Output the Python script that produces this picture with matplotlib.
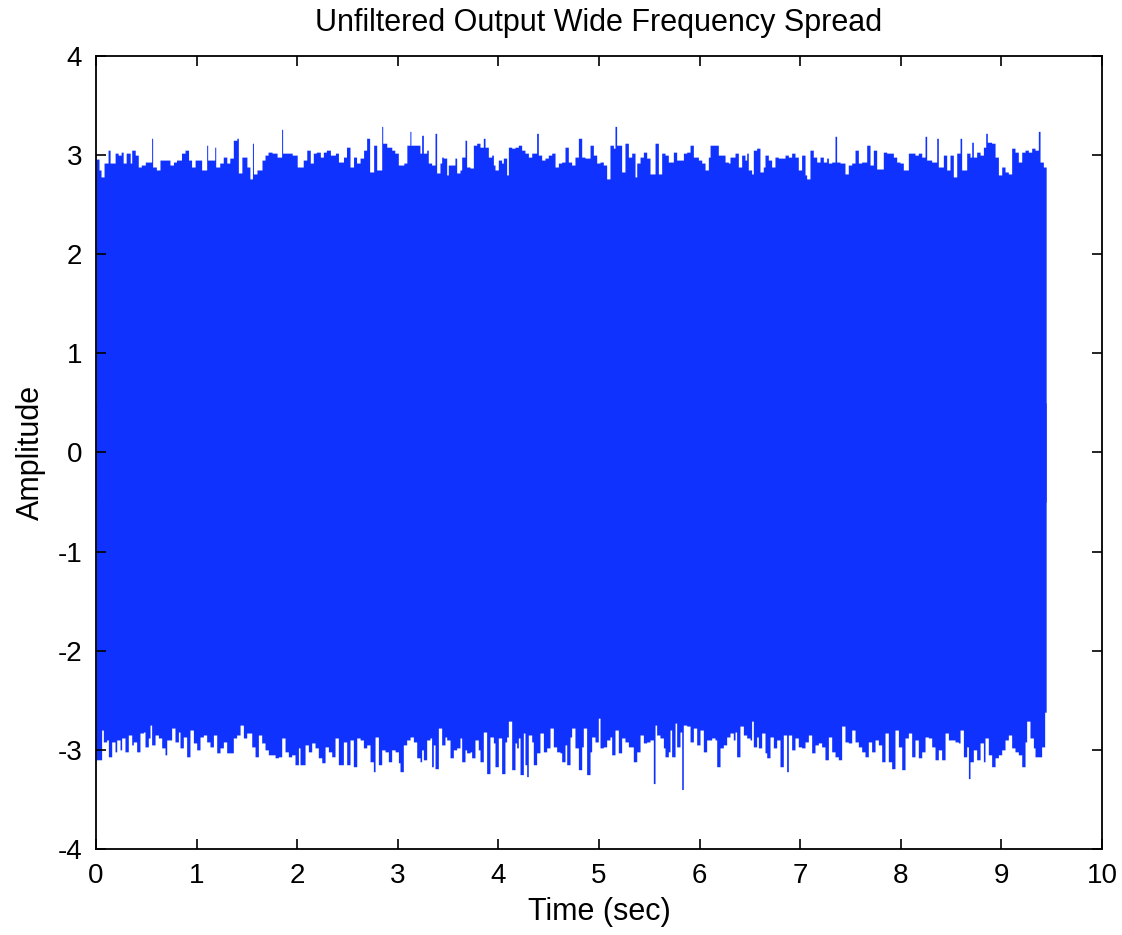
import matplotlib
matplotlib.use("Agg")
import matplotlib.pyplot as plt
import numpy as np

plt.rcParams['font.family'] = ['Liberation Sans Narrow', 'Liberation Sans', 'DejaVu Sans']

TITLE = "Unfiltered Output Wide Frequency Spread"
XLABEL = "Time (sec)"
YLABEL = "Amplitude"
x_ticks = [0, 1, 2, 3, 4, 5, 6, 7, 8, 9, 10]
y_ticks = [-4, -3, -2, -1, 0, 1, 2, 3, 4]

# upper envelope of the dense signal: (time s, amplitude)
upper_points = [
    (0.00, 2.96), (0.03, 2.85), (0.05, 2.78), (0.08, 2.92), (0.12, 3.05), (0.14, 2.92), (0.19, 3.02),
    (0.22, 3.00), (0.25, 3.03), (0.27, 2.92), (0.30, 3.02), (0.34, 2.92), (0.355, 3.05), (0.39, 3.00),
    (0.42, 2.88), (0.45, 2.90), (0.49, 2.93), (0.52, 2.93), (0.553, 3.17), (0.563, 2.88), (0.60, 2.85),
    (0.636, 2.95), (0.67, 2.95), (0.70, 2.95), (0.735, 2.90), (0.77, 2.93), (0.80, 2.95), (0.85, 3.02),
    (0.885, 3.05), (0.92, 2.95), (0.95, 2.88), (0.985, 2.95), (1.02, 2.95), (1.05, 2.85), (1.10, 3.10),
    (1.11, 2.95), (1.13, 2.95), (1.18, 3.08), (1.19, 2.88), (1.23, 2.92), (1.265, 2.98), (1.30, 2.92),
    (1.33, 2.97), (1.365, 3.15), (1.40, 3.17), (1.415, 2.82), (1.45, 2.98), (1.50, 2.88), (1.53, 2.76),
    (1.555, 3.12), (1.565, 2.81), (1.60, 2.85), (1.65, 2.95), (1.68, 3.00), (1.71, 3.03), (1.75, 3.02),
    (1.80, 2.98), (1.845, 3.26), (1.855, 3.02), (1.90, 3.02), (1.95, 3.00), (2.00, 2.88), (2.06, 2.95),
    (2.095, 3.05), (2.13, 2.92), (2.16, 3.02), (2.19, 3.03), (2.23, 2.98), (2.26, 3.03), (2.29, 3.05),
    (2.33, 3.00), (2.38, 3.02), (2.41, 2.93), (2.46, 2.98), (2.49, 3.08), (2.525, 2.88), (2.56, 2.98),
    (2.59, 2.92), (2.625, 2.97), (2.66, 3.05), (2.69, 3.17), (2.72, 2.83), (2.76, 3.10), (2.79, 2.85),
    (2.84, 3.29), (2.85, 3.12), (2.89, 3.08), (2.94, 3.05), (2.97, 3.02), (3.005, 2.90), (3.06, 2.92),
    (3.09, 3.10), (3.12, 3.24), (3.13, 3.10), (3.154, 3.10), (3.22, 3.02), (3.237, 3.20), (3.254, 3.02),
    (3.287, 3.05), (3.303, 2.92), (3.336, 2.90), (3.370, 3.22), (3.386, 2.82), (3.419, 2.92), (3.436, 2.98),
    (3.452, 2.97), (3.486, 2.80), (3.502, 2.90), (3.535, 2.90), (3.568, 2.97), (3.585, 2.82), (3.618, 2.85),
    (3.635, 2.98), (3.668, 3.15), (3.684, 2.88), (3.718, 2.87), (3.751, 3.10), (3.784, 3.12), (3.817, 3.08),
    (3.850, 3.17), (3.867, 3.08), (3.900, 2.98), (3.933, 3.00), (3.950, 2.90), (3.966, 2.85), (3.999, 2.95),
    (4.032, 2.92), (4.049, 2.97), (4.082, 2.80), (4.099, 3.08), (4.132, 3.07), (4.165, 3.08), (4.198, 3.10),
    (4.231, 3.05), (4.264, 3.02), (4.298, 2.98), (4.331, 3.02), (4.380, 3.22), (4.397, 3.00), (4.430, 2.95),
    (4.463, 2.97), (4.496, 3.00), (4.530, 3.02), (4.563, 2.88), (4.596, 2.92), (4.629, 2.93), (4.662, 3.08),
    (4.695, 2.93), (4.728, 2.90), (4.761, 2.98), (4.795, 3.17), (4.828, 2.98), (4.861, 2.97), (4.911, 3.10),
    (4.944, 3.00), (4.977, 2.92), (5.010, 2.93), (5.043, 2.90), (5.076, 2.76), (5.109, 3.10), (5.143, 3.07),
    (5.159, 3.29), (5.175, 3.10), (5.225, 2.83), (5.258, 3.12), (5.292, 2.98), (5.325, 3.02), (5.358, 2.78),
    (5.375, 2.92), (5.408, 2.98), (5.441, 3.03), (5.474, 2.97), (5.507, 2.81), (5.557, 3.12), (5.590, 2.81),
    (5.623, 3.02), (5.656, 3.00), (5.689, 2.93), (5.739, 3.03), (5.772, 2.95), (5.805, 2.95), (5.839, 3.02),
    (5.872, 3.03), (5.905, 3.10), (5.938, 2.98), (5.988, 2.95), (6.021, 2.92), (6.054, 2.85), (6.087, 2.98),
    (6.104, 3.10), (6.153, 3.10), (6.186, 3.00), (6.220, 3.00), (6.253, 2.93), (6.286, 2.92), (6.302, 2.98),
    (6.352, 3.02), (6.385, 2.88), (6.418, 3.00), (6.451, 2.95), (6.468, 3.02), (6.484, 2.85), (6.517, 2.81),
    (6.534, 3.05), (6.567, 3.07), (6.600, 2.83), (6.633, 2.88), (6.650, 3.00), (6.683, 2.95), (6.716, 2.88),
    (6.749, 2.98), (6.782, 2.97), (6.816, 2.97), (6.849, 3.00), (6.882, 2.98), (6.915, 3.02), (6.948, 2.98),
    (6.981, 2.85), (7.014, 3.00), (7.048, 2.80), (7.064, 2.76), (7.097, 3.05), (7.130, 2.98), (7.164, 2.93),
    (7.197, 2.98), (7.230, 2.93), (7.263, 2.97), (7.280, 2.92), (7.313, 2.93), (7.346, 3.19), (7.362, 2.93),
    (7.396, 2.92), (7.445, 2.81), (7.478, 2.90), (7.512, 2.92), (7.545, 3.05), (7.578, 2.92), (7.611, 2.93),
    (7.644, 2.93), (7.661, 3.10), (7.694, 2.90), (7.727, 3.05), (7.760, 2.86), (7.826, 3.03), (7.860, 3.02),
    (7.893, 3.02), (7.926, 2.98), (7.959, 2.93), (7.992, 2.92), (8.025, 2.85), (8.075, 3.02), (8.108, 3.02),
    (8.141, 3.00), (8.174, 3.02), (8.208, 2.98), (8.241, 3.19), (8.257, 2.95), (8.307, 2.93), (8.357, 3.17),
    (8.373, 2.88), (8.423, 3.00), (8.456, 2.85), (8.489, 3.00), (8.522, 2.78), (8.556, 3.02), (8.589, 3.17),
    (8.605, 2.85), (8.655, 3.02), (8.688, 2.98), (8.705, 3.13), (8.721, 2.98), (8.754, 3.03), (8.788, 3.00),
    (8.821, 3.08), (8.844, 3.22), (8.860, 3.13), (8.903, 3.12), (8.937, 2.98), (8.970, 2.80), (9.003, 2.88),
    (9.036, 2.83), (9.069, 2.81), (9.102, 3.07), (9.135, 3.03), (9.168, 2.93), (9.202, 3.03), (9.235, 3.05),
    (9.268, 3.03), (9.301, 3.07), (9.334, 3.05), (9.367, 3.24), (9.384, 2.93), (9.417, 2.88), (9.445, 2.88),
]

# lower envelope of the dense signal: (time s, amplitude)
lower_points = [
    (0.00, -3.10), (0.056, -2.80), (0.073, -2.92), (0.106, -2.90), (0.123, -3.07), (0.156, -2.92),
    (0.189, -3.02), (0.206, -2.90), (0.239, -3.00), (0.255, -2.88), (0.288, -3.02), (0.321, -2.85),
    (0.355, -2.95), (0.371, -2.92), (0.404, -3.02), (0.437, -2.83), (0.471, -2.82), (0.487, -2.97),
    (0.520, -2.88), (0.537, -2.75), (0.553, -2.95), (0.587, -2.85), (0.620, -2.88), (0.653, -2.98),
    (0.686, -3.05), (0.703, -2.90), (0.752, -2.78), (0.785, -2.92), (0.819, -2.82), (0.835, -2.98),
    (0.868, -2.87), (0.901, -3.07), (0.934, -2.80), (0.968, -2.93), (1.001, -3.00), (1.034, -2.87),
    (1.067, -2.85), (1.100, -2.92), (1.133, -2.97), (1.167, -2.85), (1.200, -3.03), (1.233, -2.98),
    (1.266, -2.92), (1.299, -3.03), (1.332, -3.03), (1.365, -2.88), (1.398, -2.85), (1.432, -2.75),
    (1.465, -2.88), (1.498, -2.83), (1.548, -2.97), (1.581, -3.07), (1.614, -2.85), (1.647, -2.93),
    (1.680, -3.00), (1.713, -3.05), (1.746, -3.05), (1.780, -3.08), (1.813, -3.07), (1.846, -2.88),
    (1.879, -3.02), (1.912, -3.07), (1.945, -3.05), (1.978, -3.15), (2.012, -2.98), (2.028, -3.15),
    (2.078, -2.95), (2.111, -3.02), (2.144, -2.93), (2.177, -2.98), (2.210, -3.08), (2.244, -3.13),
    (2.277, -2.97), (2.310, -3.02), (2.343, -3.07), (2.376, -2.88), (2.409, -3.15), (2.459, -2.92),
    (2.492, -3.15), (2.525, -2.90), (2.558, -3.17), (2.592, -2.88), (2.625, -2.90), (2.658, -2.98),
    (2.691, -2.95), (2.724, -3.12), (2.757, -3.22), (2.774, -2.87), (2.807, -3.15), (2.840, -3.00),
    (2.873, -3.02), (2.906, -3.12), (2.939, -3.00), (2.973, -3.02), (3.006, -3.13), (3.022, -3.22),
    (3.055, -2.95), (3.088, -2.90), (3.122, -2.87), (3.155, -2.92), (3.188, -3.08), (3.221, -3.12),
    (3.237, -3.00), (3.254, -3.10), (3.287, -2.90), (3.320, -2.88), (3.336, -3.17), (3.353, -2.95),
    (3.370, -3.19), (3.403, -2.78), (3.436, -2.95), (3.469, -2.87), (3.486, -2.90), (3.519, -3.08),
    (3.552, -3.00), (3.585, -2.98), (3.618, -2.88), (3.635, -3.12), (3.668, -3.00), (3.684, -3.03),
    (3.718, -3.02), (3.734, -3.08), (3.767, -2.90), (3.800, -3.00), (3.817, -3.12), (3.850, -2.82),
    (3.883, -3.24), (3.916, -2.87), (3.950, -2.93), (3.966, -3.17), (3.999, -2.88), (4.032, -3.24),
    (4.065, -2.92), (4.082, -2.87), (4.099, -2.71), (4.132, -3.20), (4.165, -2.93), (4.181, -2.98),
    (4.198, -2.88), (4.215, -3.25), (4.248, -2.83), (4.264, -3.15), (4.281, -3.27), (4.297, -2.85),
    (4.331, -2.92), (4.347, -3.15), (4.380, -3.03), (4.413, -2.83), (4.447, -3.02), (4.480, -2.98),
    (4.513, -2.78), (4.546, -2.97), (4.579, -3.02), (4.612, -3.03), (4.629, -3.12), (4.662, -2.95),
    (4.679, -3.15), (4.712, -2.87), (4.728, -2.78), (4.761, -2.98), (4.795, -3.20), (4.828, -2.97),
    (4.844, -2.78), (4.877, -3.25), (4.911, -3.02), (4.927, -2.87), (4.960, -2.92), (4.993, -2.68),
    (5.010, -2.98), (5.043, -2.97), (5.076, -2.90), (5.109, -2.87), (5.126, -3.05), (5.159, -2.80),
    (5.192, -3.03), (5.225, -2.88), (5.258, -2.92), (5.292, -2.97), (5.341, -3.12), (5.375, -3.02),
    (5.408, -2.85), (5.441, -2.93), (5.474, -2.92), (5.507, -2.90), (5.540, -3.34), (5.557, -2.75),
    (5.573, -2.85), (5.606, -2.88), (5.640, -2.98), (5.656, -3.07), (5.689, -3.02), (5.706, -2.80),
    (5.722, -3.07), (5.756, -2.73), (5.772, -2.97), (5.805, -2.82), (5.822, -3.40), (5.838, -2.75),
    (5.872, -2.76), (5.905, -2.92), (5.938, -2.78), (5.971, -2.95), (6.004, -2.80), (6.037, -3.02),
    (6.070, -2.90), (6.120, -2.88), (6.153, -2.90), (6.170, -3.17), (6.203, -2.98), (6.236, -2.95),
    (6.269, -2.87), (6.302, -2.83), (6.335, -2.90), (6.352, -2.82), (6.368, -3.07), (6.401, -2.76),
    (6.435, -2.85), (6.468, -2.88), (6.501, -2.90), (6.517, -2.71), (6.534, -2.97), (6.567, -2.87),
    (6.584, -2.98), (6.617, -2.83), (6.650, -3.03), (6.667, -3.08), (6.700, -2.87), (6.733, -2.98),
    (6.766, -2.90), (6.799, -3.17), (6.832, -2.85), (6.865, -3.22), (6.882, -2.85), (6.915, -3.00),
    (6.948, -2.88), (6.981, -2.97), (7.014, -2.98), (7.048, -2.92), (7.081, -2.85), (7.114, -3.03),
    (7.147, -2.95), (7.180, -2.93), (7.213, -2.97), (7.246, -3.10), (7.280, -2.87), (7.313, -3.02),
    (7.346, -3.07), (7.379, -3.10), (7.412, -2.76), (7.445, -2.92), (7.478, -2.93), (7.512, -2.80),
    (7.545, -2.92), (7.578, -2.97), (7.611, -3.02), (7.644, -3.07), (7.677, -2.92), (7.710, -3.02),
    (7.744, -2.90), (7.777, -2.95), (7.810, -3.12), (7.843, -2.83), (7.876, -3.12), (7.909, -3.19),
    (7.942, -2.80), (7.976, -2.97), (8.009, -3.20), (8.042, -2.88), (8.075, -2.83), (8.108, -3.07),
    (8.141, -2.90), (8.174, -3.08), (8.208, -3.02), (8.241, -2.87), (8.274, -2.88), (8.307, -2.97),
    (8.340, -3.10), (8.373, -3.00), (8.406, -3.10), (8.440, -2.83), (8.473, -2.90), (8.506, -2.90),
    (8.539, -2.92), (8.572, -2.93), (8.589, -2.80), (8.622, -3.07), (8.655, -2.97), (8.672, -3.29),
    (8.688, -3.12), (8.721, -3.00), (8.754, -3.10), (8.788, -2.93), (8.821, -3.12), (8.837, -2.88),
    (8.870, -3.05), (8.903, -3.17), (8.937, -3.08), (8.970, -3.05), (9.003, -3.00), (9.036, -2.90),
    (9.069, -2.85), (9.102, -2.98), (9.135, -3.02), (9.168, -3.05), (9.202, -3.17), (9.235, -2.92),
    (9.251, -2.71), (9.284, -2.88), (9.318, -2.98), (9.334, -3.07), (9.367, -3.07), (9.400, -2.97),
    (9.430, -2.62), (9.445, -2.62),
]

upper_t, upper_v = np.array(upper_points).T
lower_t, lower_v = np.array(lower_points).T

BLUE = '#1032FF'

fig = plt.figure(figsize=(11.22, 9.35), dpi=100)
ax = fig.add_axes([96/1122, 86/935, 1006/1122, 793/935])

ax.fill_between(upper_t, -0.5, upper_v, step='post', color=BLUE, linewidth=0)
ax.fill_between(lower_t, lower_v, 0.5, step='post', color=BLUE, linewidth=0)

ax.set_xlim(0, 10)
ax.set_ylim(-4, 4)
ax.set_xticks(x_ticks)
ax.set_yticks(y_ticks)
ax.set_xticklabels([str(v) for v in x_ticks])
ax.set_yticklabels([str(v) for v in y_ticks])

ax.tick_params(direction='in', length=7.5, width=1.2, top=True, right=True,
               labelsize=20, pad=10, colors='black')
for s in ax.spines.values():
    s.set_linewidth(1.3)
    s.set_color('black')

ax.set_title(TITLE, fontsize=22, pad=18)
ax.set_xlabel(XLABEL, fontsize=22, labelpad=6)
ax.set_ylabel(YLABEL, fontsize=22, labelpad=8)

fig.savefig('out.png', dpi=100, facecolor='white')
